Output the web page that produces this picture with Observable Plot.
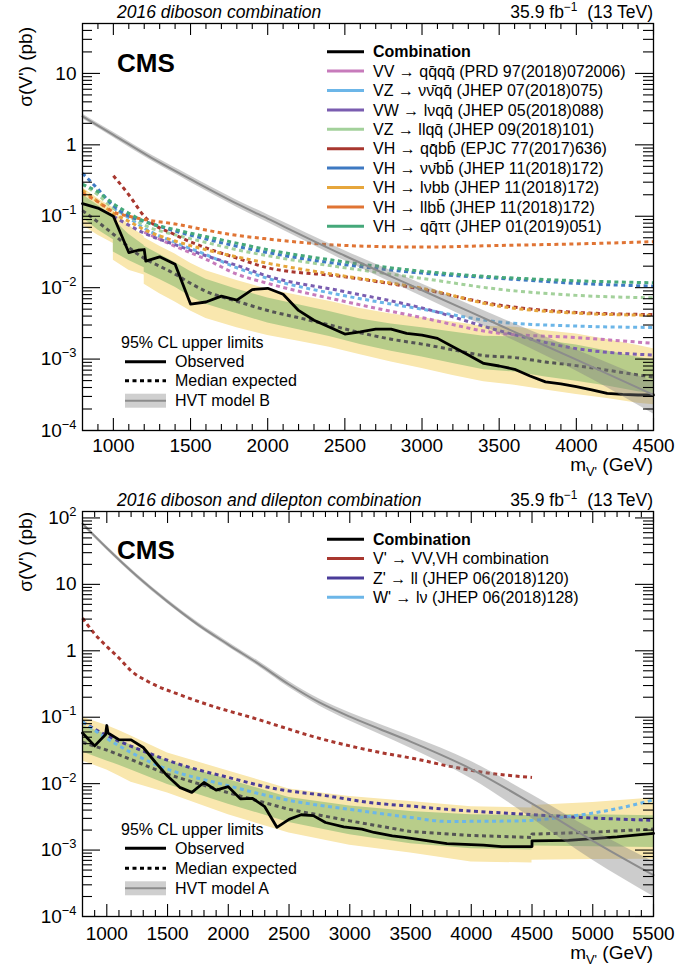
<!DOCTYPE html>
<html>
<head>
<meta charset="utf-8">
<script src="https://cdn.jsdelivr.net/npm/d3@7"></script>
<script src="https://cdn.jsdelivr.net/npm/@observablehq/plot@0.6"></script>
<style>
  body { margin: 0; background: #fff; }
  #chart { width: 697px; height: 970px; }
  #chart svg { display: block; }
</style>
</head>
<body>
<div id="chart"></div>
<script>
const FONT = "'Liberation Sans', Arial, Helvetica, sans-serif";

// ================= TOP PANEL: 2016 diboson combination =================
const topTitle = "2016 diboson combination";
const lumiText = "35.9 fb^{−1}\u00a0\u00a0(13 TeV)";
const topXTicks = [1000, 1500, 2000, 2500, 3000, 3500, 4000, 4500];
const topXTickLabels = ["1000", "1500", "2000", "2500", "3000", "3500", "4000", "4500"];
const topYTicks = [1e-4, 1e-3, 1e-2, 1e-1, 1, 10];
const topYTickLabels = ["10^{−4}", "10^{−3}", "10^{−2}", "10^{−1}", "1", "10"];

// expected-limit bands (pb)
const topBandMass = [800, 900, 1000, 1000, 1100, 1200, 1200, 1300, 1400, 1500, 1600, 1800, 2000, 2200, 2400, 2600, 2800, 3000, 3200, 3400, 3600, 3800, 4000, 4200, 4400, 4500];
const topUp2 = [0.25, 0.177, 0.13, 0.12, 0.075, 0.052, 0.050, 0.038, 0.0295, 0.0219, 0.0172, 0.0126, 0.0095, 0.00776, 0.00646, 0.0051, 0.00427, 0.0038, 0.0033, 0.00288, 0.0028, 0.0025, 0.00224, 0.00188, 0.00155, 0.0014];
const topUp1 = [0.20, 0.143, 0.10, 0.09, 0.056, 0.039, 0.038, 0.0292, 0.0226, 0.0168, 0.0131, 0.0095, 0.00716, 0.00575, 0.00462, 0.00363, 0.0031, 0.00275, 0.0024, 0.00209, 0.00204, 0.0018, 0.00158, 0.0013, 0.00106, 0.00097];
const topDn1 = [0.095, 0.064, 0.047, 0.0316, 0.024, 0.019, 0.0165, 0.013, 0.0101, 0.0075, 0.00585, 0.0043, 0.0032, 0.00257, 0.00207, 0.0016, 0.00129, 0.00107, 0.00087, 0.00071, 0.00066, 0.00056, 0.00049, 0.00042, 0.00035, 0.00033];
const topDn2 = [0.075, 0.054, 0.0415, 0.0243, 0.0175, 0.0150, 0.0112, 0.0082, 0.0063, 0.0047, 0.0037, 0.00275, 0.00214, 0.00178, 0.00146, 0.00115, 0.00091, 0.00074, 0.00059, 0.00048, 0.00043, 0.00037, 0.00032, 0.00028, 0.00024, 0.00023];

const topExpMass = [800, 900, 1000, 1100, 1200, 1300, 1400, 1500, 1600, 1800, 2000, 2200, 2400, 2600, 2800, 3000, 3200, 3400, 3600, 3800, 4000, 4200, 4400, 4500];
const topExpected = [0.12, 0.083, 0.056, 0.0367, 0.0257, 0.020, 0.0155, 0.0115, 0.0089, 0.00646, 0.00479, 0.0038, 0.0030, 0.00234, 0.0019, 0.00162, 0.00135, 0.00112, 0.00105, 0.00091, 0.00081, 0.0007, 0.0006, 0.00056];

const topObsMass = [800, 900, 1000, 1100, 1160, 1200, 1210, 1300, 1400, 1500, 1600, 1700, 1800, 1900, 2000, 2100, 2200, 2300, 2500, 2600, 2700, 2800, 2900, 3000, 3100, 3200, 3300, 3400, 3500, 3600, 3700, 3800, 3900, 4000, 4100, 4200, 4300, 4400, 4500];
const topObserved = [0.15, 0.13, 0.10, 0.031, 0.0334, 0.0342, 0.0235, 0.027, 0.0213, 0.0059, 0.0063, 0.0076, 0.0067, 0.0094, 0.0098, 0.0081, 0.0048, 0.0035, 0.00224, 0.0024, 0.00263, 0.00263, 0.00229, 0.00217, 0.00195, 0.00149, 0.00114, 0.00087, 0.0008, 0.00072, 0.00058, 0.00048, 0.00045, 0.00041, 0.00037, 0.00033, 0.00032, 0.000314, 0.000314];

// channel expected limits (pb)
const topChanMass = [800, 900, 1000, 1100, 1200, 1400, 1600, 1800, 2000, 2500, 3000, 3500, 4000, 4500];
const expVVqqqq  = [null, null, null, null, 0.06, 0.038, 0.025, 0.0155, 0.0115, 0.0064, 0.0038, 0.0023, 0.0020, 0.00166];
const expVZnnqq  = [null, null, 0.13, 0.095, 0.068, 0.043, 0.029, 0.019, 0.0135, 0.0077, 0.005, 0.0033, 0.0029, 0.00277];
const expVWlnqq  = [null, null, 0.10, 0.075, 0.058, 0.040, 0.028, 0.0205, 0.0145, 0.0088, 0.0052, 0.0025, 0.0014, 0.00114];
const expVZllqq  = [0.28, 0.20, 0.13, 0.10, 0.075, 0.055, 0.043, 0.034, 0.028, 0.019, 0.0135, 0.0095, 0.0078, 0.0072];
const expVHqqbb  = [null, null, 0.37, 0.20, 0.10, 0.055, 0.036, 0.026, 0.019, 0.0142, 0.0095, 0.0057, 0.0045, 0.0042];
const expVHnnbb  = [0.40, 0.24, 0.14, 0.10, 0.085, 0.062, 0.048, 0.038, 0.031, 0.021, 0.016, 0.0135, 0.0115, 0.0105];
const expVHlnbb  = [0.23, 0.16, 0.11, 0.085, 0.065, 0.045, 0.034, 0.027, 0.022, 0.0145, 0.0098, 0.0055, 0.0044, 0.0041];
const expVHllbb  = [0.21, 0.16, 0.115, 0.10, 0.09, 0.078, 0.064, 0.054, 0.048, 0.039, 0.037, 0.039, 0.041, 0.044];
const expVHqqtt  = [0.28, 0.22, 0.15, 0.11, 0.085, 0.065, 0.052, 0.042, 0.034, 0.023, 0.017, 0.014, 0.0125, 0.0117];

const topChanLabels = [
  "VV → qq\u0304qq\u0304 (PRD 97(2018)072006)",
  "VZ → νν\u0304qq\u0304 (JHEP 07(2018)075)",
  "VW → lνqq\u0304 (JHEP 05(2018)088)",
  "VZ → llqq\u0304 (JHEP 09(2018)101)",
  "VH → qq\u0304bb\u0304 (EPJC 77(2017)636)",
  "VH → νν\u0304bb\u0304 (JHEP 11(2018)172)",
  "VH → lνbb (JHEP 11(2018)172)",
  "VH → llbb\u0304 (JHEP 11(2018)172)",
  "VH → qq\u0304ττ (JHEP 01(2019)051)"
];
const topChanColors = ["#c77bbb", "#6cb6e8", "#7a5db0", "#a3d19b", "#a8372f", "#3e79c2", "#e6a63c", "#e07434", "#45a87a"];
const topChanValues = [expVVqqqq, expVZnnqq, expVWlnqq, expVZllqq, expVHqqbb, expVHnnbb, expVHlnbb, expVHllbb, expVHqqtt];

// HVT model B
const hvtBMass = [800, 1000, 1250, 1500, 1800, 2000, 2500, 3000, 3500, 4000, 4500];
const hvtB     = [2.5, 1.38, 0.65, 0.33, 0.15, 0.0925, 0.028, 0.0092, 0.0030, 0.00098, 0.000316];
const hvtBHi   = [2.71, 1.50, 0.712, 0.366, 0.168, 0.105, 0.0329, 0.0113, 0.00386, 0.00135, 0.000478];
const hvtBLo   = [2.31, 1.27, 0.593, 0.298, 0.134, 0.0815, 0.0238, 0.0075, 0.00228, 0.00068, 0.00017];

// ================= BOTTOM PANEL: diboson + dilepton =================
const botTitle = "2016 diboson and dilepton combination";
const botXTicks = [1000, 1500, 2000, 2500, 3000, 3500, 4000, 4500, 5000, 5500];
const botXTickLabels = ["1000", "1500", "2000", "2500", "3000", "3500", "4000", "4500", "5000", "5500"];
const botYTicks = [1e-4, 1e-3, 1e-2, 1e-1, 1, 10, 100];
const botYTickLabels = ["10^{−4}", "10^{−3}", "10^{−2}", "10^{−1}", "1", "10", "10^{2}"];

const botBandMass = [800, 1000, 1100, 1200, 1500, 2000, 2500, 3000, 3500, 4000, 4500, 4500, 5000, 5500];
const botUp2 = [0.10, 0.075, 0.063, 0.052, 0.029, 0.0155, 0.0083, 0.0064, 0.0054, 0.0045, 0.0043, 0.0047, 0.0052, 0.0061];
const botUp1 = [0.075, 0.055, 0.046, 0.038, 0.022, 0.0115, 0.0062, 0.0046, 0.0038, 0.0034, 0.0033, 0.0034, 0.0034, 0.0033];
const botDn1 = [0.030, 0.022, 0.019, 0.016, 0.0097, 0.0049, 0.0026, 0.0017, 0.00125, 0.00105, 0.0010, 0.00115, 0.00112, 0.00109];
const botDn2 = [0.022, 0.016, 0.013, 0.0105, 0.0072, 0.0034, 0.0018, 0.00118, 0.0009, 0.00066, 0.00064, 0.0007, 0.00072, 0.00073];

const botExpMass = [800, 1000, 1200, 1500, 2000, 2500, 3000, 3500, 4000, 4500, 4500, 5000, 5500];
const botExpected = [0.042, 0.032, 0.023, 0.0138, 0.0073, 0.0041, 0.00275, 0.0019, 0.00166, 0.00155, 0.00174, 0.00186, 0.00207];

const botObsMass = [800, 900, 990, 1000, 1010, 1100, 1200, 1300, 1400, 1500, 1600, 1700, 1800, 1900, 2000, 2100, 2200, 2300, 2400, 2500, 2600, 2700, 2800, 2950, 3100, 3200, 3350, 3450, 3800, 4100, 4250, 4500, 4500, 4800, 5200, 5500];
const botObserved = [0.058, 0.037, 0.055, 0.075, 0.058, 0.046, 0.0455, 0.035, 0.021, 0.013, 0.0088, 0.0074, 0.0104, 0.008, 0.009, 0.0059, 0.006, 0.0045, 0.0022, 0.0029, 0.0034, 0.0033, 0.0026, 0.00224, 0.00207, 0.00184, 0.00164, 0.00155, 0.00125, 0.00119, 0.00113, 0.00113, 0.00138, 0.0014, 0.00158, 0.00178];

const vvvhMass = [800, 900, 1000, 1100, 1200, 1350, 1600, 1900, 2200, 2450, 2700, 3000, 3250, 3550, 3800, 4100, 4500];
const vvvhExp  = [3.1, 1.8, 1.16, 0.78, 0.50, 0.336, 0.218, 0.141, 0.098, 0.0705, 0.051, 0.037, 0.0295, 0.0234, 0.0186, 0.0148, 0.0124];
const zllMass  = [800, 1000, 1300, 1600, 2000, 2400, 2800, 3200, 3500, 3800, 4400, 4900, 5500];
const zllExp   = [0.085, 0.053, 0.031, 0.0195, 0.0124, 0.0083, 0.0066, 0.0051, 0.0046, 0.0041, 0.0035, 0.0031, 0.0028];
const wlnMass  = [800, 1000, 1400, 2000, 2500, 3000, 3500, 3800, 4400, 4800, 5200, 5500];
const wlnExp   = [0.085, 0.048, 0.0195, 0.0093, 0.0056, 0.0041, 0.0031, 0.0027, 0.00275, 0.0032, 0.0042, 0.0057];

const botChanLabels = ["V' → VV,VH combination", "Z' → ll (JHEP 06(2018)120)", "W' → lν (JHEP 06(2018)128)"];
const botChanColors = ["#a8372f", "#4a3c99", "#6cb6e8"];

// HVT model A
const hvtAMass = [800, 1000, 1250, 1500, 1750, 2000, 2250, 2500, 2750, 3000, 3250, 3500, 4000, 4500, 5000, 5500];
const hvtA     = [82, 35.2, 13.2, 5.5, 2.48, 1.24, 0.635, 0.311, 0.167, 0.102, 0.066, 0.043, 0.0166, 0.0050, 0.00138, 0.00042];
const hvtAHi   = [88, 37.7, 14.2, 5.9, 2.68, 1.35, 0.695, 0.345, 0.188, 0.117, 0.078, 0.052, 0.0215, 0.0068, 0.0020, 0.00067];
const hvtALo   = [76, 32.8, 12.3, 5.1, 2.30, 1.14, 0.58, 0.28, 0.148, 0.088, 0.055, 0.034, 0.0118, 0.0030, 0.00070, 0.0002];

// ================= styling constants =================
const C_YELLOW = "#f9e7ae", C_GREEN = "#b8cd8a", C_EXP = "#545454";
const C_HVT_BAND = "#808080", C_HVT_LINE = "#8c8c8c";
const DASH = "4,3.5";

// ================= helpers =================
const series = (mass, vals) => mass.map((m, i) => ({m, v: vals[i]})).filter(d => d.v != null);
const bandTable = (mass, dn2, dn1, up1, up2) => mass.map((m, i) => ({m, dn2: dn2[i], dn1: dn1[i], up1: up1[i], up2: up2[i]}));
const hvtTable = (mass, c, lo, hi) => mass.map((m, i) => ({m, v: c[i], lo: lo[i], hi: hi[i]}));

function rich(el, str, fs) {
  const t = d3.select(el); t.text(null);
  const re = /(\^|_)\{([^}]*)\}/g;
  let last = 0, cur = 0, m;
  const put = (s, off, size) => {
    const sp = t.append("tspan").text(s);
    const dy = off - cur;
    if (dy) sp.attr("dy", dy);
    if (size) sp.attr("font-size", size);
    cur = off;
  };
  while ((m = re.exec(str))) {
    if (m.index > last) put(str.slice(last, m.index), 0);
    put(m[2], m[1] === "^" ? -0.42 * fs : 0.28 * fs, 0.68 * fs);
    last = re.lastIndex;
  }
  if (last < str.length) put(str.slice(last), 0);
}

function buildPanel(cfg) {
  const W = 697, ML = 82, MR = 44;
  const PW = W - ML - MR, PH = cfg.height - cfg.mTop - cfg.mBottom;
  const yMinor = [];
  for (let e = -5; e <= 3; e++) for (let k = 2; k <= 9; k++) {
    const v = k * Math.pow(10, e);
    if (v > cfg.yDomain[0] && v < cfg.yDomain[1]) yMinor.push(v);
  }
  const xMinor = d3.range(cfg.xDomain[0] + 100, cfg.xDomain[1], 100).filter(v => v % 500 !== 0);
  const tk = {stroke: "black", strokeWidth: 1.1};
  const svg = Plot.plot({
    width: W, height: cfg.height,
    marginLeft: ML, marginRight: MR, marginTop: cfg.mTop, marginBottom: cfg.mBottom,
    x: {domain: cfg.xDomain},
    y: {type: "log", domain: cfg.yDomain},
    style: {fontFamily: FONT, fontSize: "19px", color: "black", background: "white", overflow: "visible"},
    marks: [
      ...cfg.marks,
      Plot.ruleY(cfg.yTicks, {y: d => d, insetRight: PW - 18, ...tk}),
      Plot.ruleY(cfg.yTicks, {y: d => d, insetLeft: PW - 18, ...tk}),
      Plot.ruleY(yMinor, {y: d => d, insetRight: PW - 10, ...tk}),
      Plot.ruleY(yMinor, {y: d => d, insetLeft: PW - 10, ...tk}),
      Plot.ruleX(cfg.xTicks, {x: d => d, insetTop: PH - 12, ...tk}),
      Plot.ruleX(cfg.xTicks, {x: d => d, insetBottom: PH - 12, ...tk}),
      Plot.ruleX(xMinor, {x: d => d, insetTop: PH - 6, ...tk}),
      Plot.ruleX(xMinor, {x: d => d, insetBottom: PH - 6, ...tk}),
      Plot.frame({stroke: "black", strokeWidth: 1.3}),
      Plot.axisY({ticks: cfg.yTicks, tickFormat: d => cfg.yLabels[cfg.yTicks.indexOf(d)], tickSize: 0, tickPadding: 6, label: null, fontSize: 19}),
      Plot.axisX({ticks: cfg.xTicks, tickFormat: d => cfg.xLabels[cfg.xTicks.indexOf(d)], tickSize: 0, tickPadding: cfg.xPad, label: null, fontSize: 19})
    ]
  });
  d3.select(svg).selectAll("text").each(function () {
    const s = this.textContent;
    if (s.includes("^{") || s.includes("_{")) rich(this, s, 19);
  });
  return svg;
}

function addText(g, x, y, str, opts = {}) {
  const fs = opts.size || 16;
  const t = g.append("text").attr("x", x).attr("y", y)
    .attr("font-family", FONT).attr("font-size", fs).attr("fill", "black")
    .attr("text-anchor", opts.anchor || "start");
  if (opts.weight) t.attr("font-weight", opts.weight);
  if (opts.italic) t.attr("font-style", "italic");
  if (opts.transform) t.attr("transform", opts.transform).attr("x", null).attr("y", null);
  rich(t.node(), str, fs);
  return t;
}

function decorate(svg, d) {
  const g = d3.select(svg).append("g");
  addText(g, 117, d.titleY, d.title, {size: 17.5, italic: true});
  addText(g, 653, d.titleY, lumiText, {size: 17.5, anchor: "end"});
  addText(g, 117, d.cmsY, "CMS", {size: 26, weight: "bold"});
  addText(g, 0, 0, "σ(V') (pb)", {size: 19, anchor: "end", transform: `translate(32,${d.yLabelTop}) rotate(-90)`});
  addText(g, 653, d.xLabelY, "m_{V'} (GeV)", {size: 19, anchor: "end"});
  // right legend
  d.legend.forEach((e, i) => {
    const y = d.legendY0 + i * d.legendStep;
    g.append("line").attr("x1", 327).attr("x2", 364).attr("y1", y).attr("y2", y)
      .attr("stroke", e.color).attr("stroke-width", 3);
    addText(g, 373, y + 5.6, e.label, {size: 16, weight: e.bold ? "bold" : null});
  });
  // left legend
  const ly = d.leftY;
  addText(g, 121, ly[0] + 5.6, "95% CL upper limits", {size: 16});
  g.append("line").attr("x1", 125).attr("x2", 166).attr("y1", ly[1]).attr("y2", ly[1])
    .attr("stroke", "black").attr("stroke-width", 3);
  addText(g, 175, ly[1] + 5.6, "Observed", {size: 16});
  g.append("line").attr("x1", 125).attr("x2", 166).attr("y1", ly[2]).attr("y2", ly[2])
    .attr("stroke", "black").attr("stroke-width", 3).attr("stroke-dasharray", DASH);
  addText(g, 175, ly[2] + 5.6, "Median expected", {size: 16});
  g.append("rect").attr("x", 125).attr("width", 41).attr("y", ly[3] - 7).attr("height", 14).attr("fill", "#cfcfcf");
  g.append("line").attr("x1", 125).attr("x2", 166).attr("y1", ly[3]).attr("y2", ly[3])
    .attr("stroke", C_HVT_LINE).attr("stroke-width", 2);
  addText(g, 175, ly[3] + 5.6, d.hvtLabel, {size: 16});
}

const dashed = (color, curve = "monotone-x") => ({x: "m", y: "v", stroke: color, strokeWidth: 3, strokeDasharray: DASH, strokeLinecap: "butt", curve});

// ================= TOP PANEL =================
const topBand = bandTable(topBandMass, topDn2, topDn1, topUp1, topUp2);
const topHvt = hvtTable(hvtBMass, hvtB, hvtBLo, hvtBHi);
const topSvg = buildPanel({
  height: 480, mTop: 23, mBottom: 50, xPad: 8,
  xDomain: [800, 4500], yDomain: [1e-4, 50],
  xTicks: topXTicks, xLabels: topXTickLabels, yTicks: topYTicks, yLabels: topYTickLabels,
  marks: [
    Plot.areaY(topBand, {x: "m", y1: "dn2", y2: "up2", fill: C_YELLOW}),
    Plot.areaY(topBand, {x: "m", y1: "dn1", y2: "up1", fill: C_GREEN}),
    Plot.lineY(series(topExpMass, topExpected), dashed(C_EXP)),
    ...topChanValues.map((vals, i) => Plot.lineY(series(topChanMass, vals), dashed(topChanColors[i]))),
    Plot.lineY(series(topObsMass, topObserved), {x: "m", y: "v", stroke: "black", strokeWidth: 2.8}),
    Plot.areaY(topHvt, {x: "m", y1: "lo", y2: "hi", fill: C_HVT_BAND, fillOpacity: 0.4, curve: "monotone-x"}),
    Plot.lineY(topHvt, {x: "m", y: "v", stroke: C_HVT_LINE, strokeWidth: 2, curve: "monotone-x"})
  ]
});
decorate(topSvg, {
  title: topTitle, titleY: 18, cmsY: 72, yLabelTop: 27, xLabelY: 471,
  legendY0: 51.7, legendStep: 19.4,
  legend: [{label: "Combination", color: "black", bold: true}, ...topChanLabels.map((l, i) => ({label: l, color: topChanColors[i]}))],
  leftY: [342.7, 361.7, 380.7, 400.7], hvtLabel: "HVT model B"
});

// ================= BOTTOM PANEL =================
const botBand = bandTable(botBandMass, botDn2, botDn1, botUp1, botUp2);
const botHvt = hvtTable(hvtAMass, hvtA, hvtALo, hvtAHi);
const botSvg = buildPanel({
  height: 490, mTop: 31, mBottom: 54, xPad: 10,
  xDomain: [800, 5500], yDomain: [1e-4, 125],
  xTicks: botXTicks, xLabels: botXTickLabels, yTicks: botYTicks, yLabels: botYTickLabels,
  marks: [
    Plot.areaY(botBand, {x: "m", y1: "dn2", y2: "up2", fill: C_YELLOW}),
    Plot.areaY(botBand, {x: "m", y1: "dn1", y2: "up1", fill: C_GREEN}),
    Plot.lineY(series(botExpMass, botExpected), dashed(C_EXP, "linear")),
    Plot.lineY(series(vvvhMass, vvvhExp), dashed(botChanColors[0])),
    Plot.lineY(series(zllMass, zllExp), dashed(botChanColors[1])),
    Plot.lineY(series(wlnMass, wlnExp), dashed(botChanColors[2])),
    Plot.lineY(series(botObsMass, botObserved), {x: "m", y: "v", stroke: "black", strokeWidth: 2.8}),
    Plot.areaY(botHvt, {x: "m", y1: "lo", y2: "hi", fill: C_HVT_BAND, fillOpacity: 0.4, curve: "monotone-x"}),
    Plot.lineY(botHvt, {x: "m", y: "v", stroke: C_HVT_LINE, strokeWidth: 2, curve: "monotone-x"})
  ]
});
decorate(botSvg, {
  title: botTitle, titleY: 26, cmsY: 79, yLabelTop: 32, xLabelY: 479,
  legendY0: 59.3, legendStep: 19.3,
  legend: [{label: "Combination", color: "black", bold: true}, ...botChanLabels.map((l, i) => ({label: l, color: botChanColors[i]}))],
  leftY: [349.3, 368.3, 388.3, 408.3], hvtLabel: "HVT model A"
});

document.getElementById("chart").append(topSvg, botSvg);
</script>
</body>
</html>
